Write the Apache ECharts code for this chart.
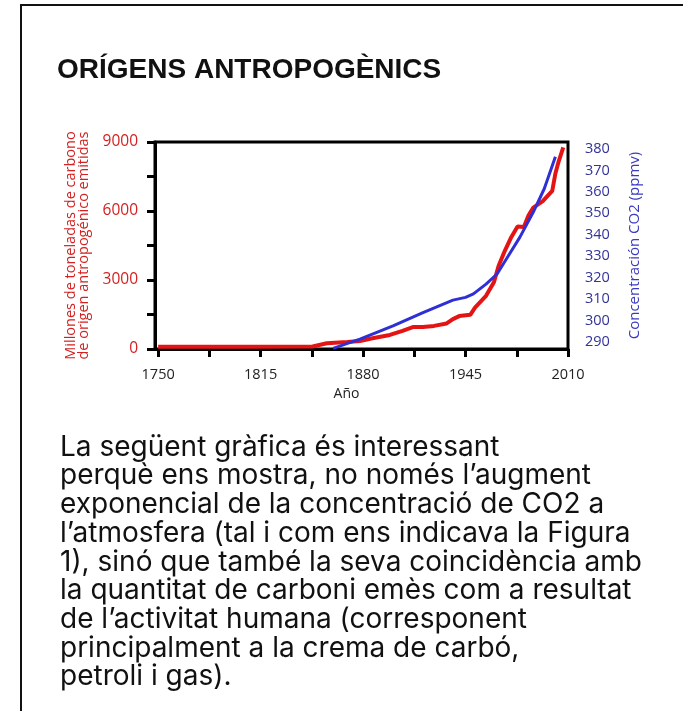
<!DOCTYPE html>
<html>
<head>
<meta charset="utf-8">
<script src="https://cdn.jsdelivr.net/npm/echarts@6/dist/echarts.min.js"></script>
<style>
  html, body { margin: 0; padding: 0; background: #fff; }
  #main { width: 683px; height: 711px; }
</style>
</head>
<body>
<div id="main"></div>
<script>
// carbon emissions (red, left axis) - millions of tonnes
var carbonYears = [1750, 1800, 1848, 1857, 1870, 1878, 1886, 1897, 1905, 1912, 1918, 1925, 1933, 1937, 1941, 1948, 1951, 1958, 1963, 1966, 1970, 1974, 1978, 1982, 1985, 1988, 1994, 2000, 2002, 2004, 2007];
var carbonValues = [100, 100, 110, 250, 305, 350, 470, 610, 790, 960, 960, 1005, 1110, 1300, 1430, 1485, 1800, 2310, 2900, 3620, 4280, 4860, 5330, 5300, 5810, 6150, 6430, 6870, 7630, 8140, 8770];

// CO2 concentration (blue, right axis) - ppmv
var co2Years = [1861, 1878, 1899, 1918, 1937, 1945, 1950, 1958, 1965, 1971, 1979.5, 1988, 1995, 2002];
var co2Values = [287, 291.3, 297.5, 303.7, 309.5, 310.8, 312.4, 317, 321.7, 328.8, 338.9, 350.6, 361.6, 376.4];

var xTicks = [1750, 1782.5, 1815, 1847.5, 1880, 1912.5, 1945, 1977.5, 2010];
var xLabels = [1750, 1815, 1880, 1945, 2010];
var leftLabels = [0, 3000, 6000, 9000];
var rightLabels = [290, 300, 310, 320, 330, 340, 350, 360, 370, 380];

var titleText = 'ORÍGENS ANTROPOGÈNICS';
var bodyLines = [
    'La següent gràfica és interessant',
    'perquè ens mostra, no només l’augment',
    'exponencial de la concentració de CO2 a',
    'l’atmosfera (tal i com ens indicava la Figura',
    '1), sinó que també la seva coincidència amb',
    'la quantitat de carboni emès com a resultat',
    'de l’activitat humana (corresponent',
    'principalment a la crema de carbó,',
    'petroli i gas).'
];

function pairs(xs, ys) {
    var out = [];
    for (var i = 0; i < xs.length; i++) out.push([xs[i], ys[i]]);
    return out;
}

var chart = echarts.init(document.getElementById('main'));
var axisFont = 'Open Sans';

var option = {
    backgroundColor: '#fff',
    animation: false,
    graphic: [
        {
            type: 'rect',
            shape: { x: 21, y: 5, width: 700, height: 720 },
            style: { fill: 'none', stroke: '#111', lineWidth: 2 },
            silent: true
        },
        {
            type: 'text',
            left: 57, top: 56,
            style: {
                text: titleText,
                font: 'bold 28px "Liberation Sans"',
                fill: '#111'
            }
        },
        {
            type: 'text',
            left: 60, top: 433,
            style: {
                text: bodyLines.join('\n'),
                font: '28px Inter',
                lineHeight: 28.7,
                fill: '#111'
            }
        }
    ],
    grid: {
        left: 155, right: 115, top: 142, bottom: 362,
        show: true, borderColor: '#000', borderWidth: 3
    },
    xAxis: {
        type: 'value',
        min: 1748, max: 2010,
        name: 'Año',
        nameLocation: 'middle',
        nameGap: 38,
        nameTextStyle: { fontFamily: axisFont, fontSize: 14, color: '#222', padding: [0, 30, 0, 0] },
        splitLine: { show: false },
        axisLine: { lineStyle: { color: '#000', width: 3 } },
        axisTick: { customValues: xTicks, length: 8, lineStyle: { color: '#000', width: 3 } },
        axisLabel: {
            customValues: xLabels, margin: 18, fontFamily: axisFont, fontSize: 14.5, color: '#222',
            formatter: function (v) { return String(v); }
        }
    },
    yAxis: [
        {
            type: 'value',
            min: 0, max: 9000, interval: 1500,
            name: 'Millones de toneladas de carbono\nde origen antropogénico emitidas',
            nameLocation: 'middle',
            nameRotate: 90,
            nameGap: 56,
            nameTextStyle: { fontFamily: axisFont, fontSize: 14.5, color: '#d42020', lineHeight: 13 },
            splitLine: { show: false },
            axisLine: { show: true, lineStyle: { color: '#000', width: 3 } },
            axisTick: { length: 8, lineStyle: { color: '#000', width: 3 } },
            axisLabel: {
                margin: 17, fontFamily: axisFont, fontSize: 15.5, color: '#d42020',
                formatter: function (v) { return leftLabels.indexOf(v) >= 0 ? String(v) : ''; }
            }
        },
        {
            type: 'value',
            min: 286.7, max: 383.3,
            position: 'right',
            name: 'Concentración CO2 (ppmv)',
            nameLocation: 'middle',
            nameRotate: 90,
            nameGap: 59,
            nameTextStyle: { fontFamily: axisFont, fontSize: 15, color: '#3a3ac0' },
            splitLine: { show: false },
            axisLine: { show: false },
            axisTick: { show: false },
            axisLabel: { customValues: rightLabels, margin: 17, fontFamily: axisFont, fontSize: 14.5, color: '#32329a' }
        }
    ],
    series: [
        {
            type: 'line',
            yAxisIndex: 0,
            data: pairs(carbonYears, carbonValues),
            symbol: 'none',
            lineStyle: { color: '#e41414', width: 4 },
            z: 3
        },
        {
            type: 'line',
            yAxisIndex: 1,
            data: pairs(co2Years, co2Values),
            symbol: 'none',
            lineStyle: { color: '#2f2fd6', width: 3 },
            z: 4
        }
    ]
};
chart.setOption(option);
</script>
</body>
</html>
